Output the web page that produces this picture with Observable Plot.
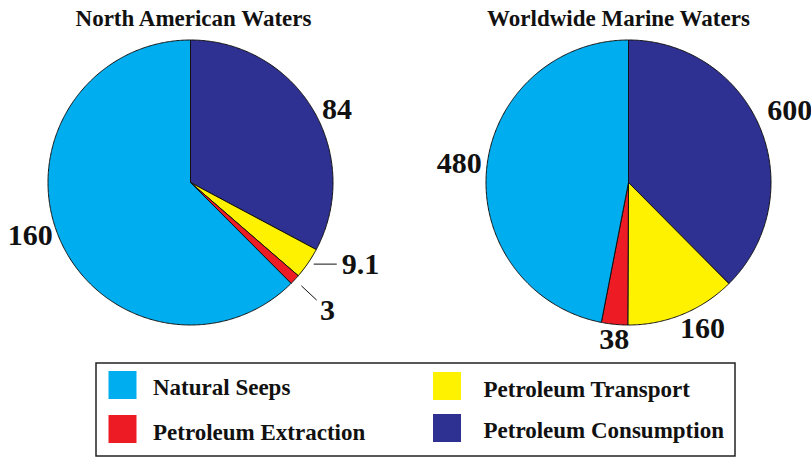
<!DOCTYPE html>
<html>
<head>
<meta charset="utf-8">
<script src="https://cdn.jsdelivr.net/npm/d3@7"></script>
<script src="https://cdn.jsdelivr.net/npm/@observablehq/plot@0.6"></script>
<style>
  html, body { margin: 0; padding: 0; background: #fff; }
  #chart svg { display: block; }
</style>
</head>
<body>
<div id="chart"></div>
<script>
// ---- data ----
const categories = ["Natural Seeps", "Petroleum Extraction", "Petroleum Transport", "Petroleum Consumption"];
const categoryColors = ["#00AEEF", "#ED1C24", "#FFF200", "#2E3192"];
// slices, clockwise from 12 o'clock
const sliceOrder = ["Petroleum Consumption", "Petroleum Transport", "Petroleum Extraction", "Natural Seeps"];
const northAmericaTitle = "North American Waters";
const northAmericaValues = [84, 9.1, 3, 160];
const northAmericaLabels = ["84", "9.1", "3", "160"];
const worldwideTitle = "Worldwide Marine Waters";
const worldwideValues = [480, 160, 38, 600];      // slice sizes as drawn
const worldwideLabels = ["600", "160", "38", "480"]; // numbers as printed beside them

// ---- layout ----
const W = 811, H = 459;
const R = 142.5;
const serif = "'Liberation Serif', 'Times New Roman', serif";

function pie(values, labels, cx, cy, tag, labelStyle) {
  const arcs = d3.pie().sort(null).value(d => d)(values);
  const pts = [], lbls = [], leaders = [];
  arcs.forEach((a, i) => {
    const cat = sliceOrder[i], key = tag + i;
    pts.push({key, cat, x: cx, y: cy});
    const n = Math.max(2, Math.ceil((a.endAngle - a.startAngle) / (Math.PI / 360)));
    for (let k = 0; k <= n; k++) {
      const t = a.startAngle + (a.endAngle - a.startAngle) * k / n;
      pts.push({key, cat, x: cx + R * Math.sin(t), y: cy - R * Math.cos(t)});
    }
    pts.push({key, cat, x: cx, y: cy});
    const mid = (a.startAngle + a.endAngle) / 2;
    const s = labelStyle[i];
    const at = (rr) => [cx + rr * Math.sin(mid), cy - rr * Math.cos(mid)];
    if (s.leader === "h") {
      const [x0, y0] = at(R + 7);
      leaders.push({x1: x0, y1: y0 - 3, x2: x0 + 23, y2: y0 - 3});
      lbls.push({text: labels[i], x: x0 + 28, y: y0 - 3, anchor: "start"});
    } else if (s.leader === "r") {
      const [x0, y0] = at(R + 9), [x1, y1] = at(R + 30);
      leaders.push({x1: x0, y1: y0, x2: x1, y2: y1});
      const [tx, ty] = at(R + 42);
      lbls.push({text: labels[i], x: tx + 2, y: ty + 2, anchor: "middle"});
    } else {
      const [tx, ty] = at(R + 12);
      const sn = Math.sin(mid);
      const anchor = sn > 0.3 ? "start" : sn < -0.3 ? "end" : "middle";
      lbls.push({text: labels[i], x: tx + (s.dx || 0), y: ty + (s.dy || 0), anchor});
    }
  });
  return {pts, lbls, leaders};
}

const left = pie(northAmericaValues, northAmericaLabels, 190, 182, "na",
  [{dx: -1, dy: 6}, {leader: "h"}, {leader: "r"}, {dx: 5, dy: -6}]);
const right = pie(worldwideValues, worldwideLabels, 628, 182, "ww",
  [{dx: -4, dy: -13}, {dx: -7, dy: 3}, {dx: 1, dy: 3}, {dx: 7, dy: -4}]);

const slices = [...left.pts, ...right.pts];
const labels = [...left.lbls, ...right.lbls];
const leaders = [...left.leaders, ...right.leaders];
const titles = [
  {text: northAmericaTitle, x: 193, y: 18},
  {text: worldwideTitle, x: 618, y: 18}
];

// legend: two columns, two rows (layout)
const legendColX = [108.5, 433];
const legendRowY = [[371, 415], [372, 414]];
const legendBaseline = [[394.3, 440], [397, 437.3]];
const legendItems = categories.map((c, i) => {
  const col = i < 2 ? 0 : 1, row = i % 2;
  const x0 = legendColX[col], y0 = legendRowY[col][row];
  return {cat: c, x1: x0, x2: x0 + 28, y1: y0, y2: y0 + 28, tx: col === 0 ? 152.5 : 483, ty: legendBaseline[col][row] - 7.4};
});
const legendFrame = [{x1: 96, x2: 735, y1: 363, y2: 456}];

const labelFont = {fontSize: 30, fontWeight: "bold", fontFamily: serif, fill: "#111", lineAnchor: "middle"};
const labelMark = (anchor) => Plot.text(labels.filter(d => d.anchor === anchor),
  {x: "x", y: "y", text: "text", textAnchor: anchor, ...labelFont});

const chart = Plot.plot({
  width: W, height: H,
  margin: 0,
  x: {domain: [0, W], range: [0, W], axis: null},
  y: {domain: [0, H], range: [0, H], axis: null},
  color: {domain: categories, range: categoryColors},
  style: {background: "white"},
  marks: [
    Plot.line(slices, {x: "x", y: "y", z: "key", fill: "cat", stroke: "#111", strokeWidth: 1, strokeLinejoin: "round"}),
    Plot.link(leaders, {x1: "x1", y1: "y1", x2: "x2", y2: "y2", stroke: "#111", strokeWidth: 1}),
    labelMark("start"), labelMark("middle"), labelMark("end"),
    Plot.text(titles, {x: "x", y: "y", text: "text", lineAnchor: "middle",
      fontSize: 23, fontWeight: "bold", fontFamily: serif, fill: "#111"}),
    Plot.rect(legendFrame, {x1: "x1", x2: "x2", y1: "y1", y2: "y2", fill: "none", stroke: "#222", strokeWidth: 1.5}),
    Plot.rect(legendItems, {x1: "x1", x2: "x2", y1: "y1", y2: "y2", fill: "cat"}),
    Plot.text(legendItems, {x: "tx", y: "ty", text: "cat", textAnchor: "start", lineAnchor: "middle",
      fontSize: 23, fontWeight: "bold", fontFamily: serif, fill: "#111"})
  ]
});
document.getElementById("chart").appendChild(chart);
</script>
</body>
</html>
